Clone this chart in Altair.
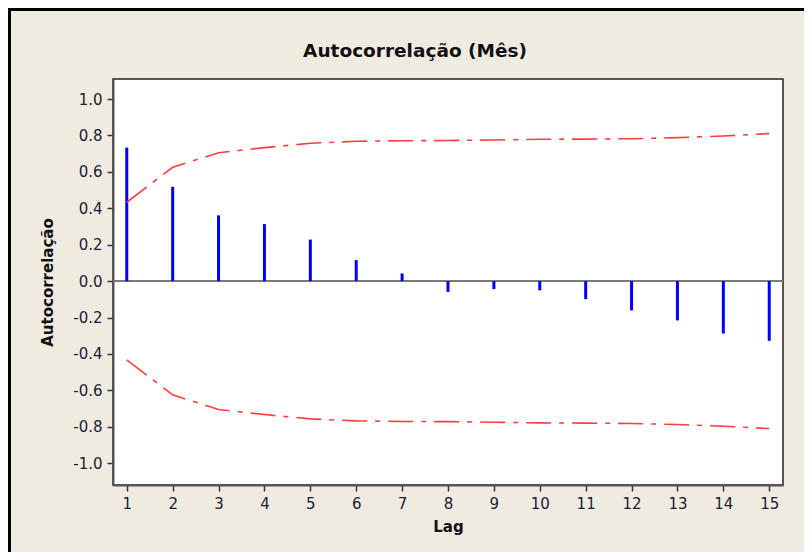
import altair as alt
import pandas as pd

# ---- data ----
lags = list(range(1, 16))
acf = [0.733, 0.518, 0.361, 0.313, 0.228, 0.115, 0.042, -0.059, -0.044,
       -0.051, -0.099, -0.161, -0.216, -0.288, -0.328]
upper_limit = [0.433, 0.625, 0.705, 0.733, 0.757, 0.768, 0.771, 0.772, 0.775,
               0.779, 0.780, 0.782, 0.788, 0.797, 0.810]
lower_limit = [-v for v in upper_limit]
y_ticks = [-1.0, -0.8, -0.6, -0.4, -0.2, 0.0, 0.2, 0.4, 0.6, 0.8, 1.0]
zero_level = [0.0]

bars_df = pd.DataFrame({"Lag": lags, "ACF": acf, "base": [0.0] * len(lags)})
lim_df = pd.DataFrame({
    "Lag": lags + lags,
    "Limit": upper_limit + lower_limit,
    "side": ["upper"] * len(lags) + ["lower"] * len(lags),
})
zero_df = pd.DataFrame({"zero": zero_level})
frame_df = pd.DataFrame({"k": [0]})

FONT = "DejaVu Sans"
TXT = "#1b1b33"

x_scale = alt.Scale(domain=[0.7, 15.3], nice=False, zero=False)
y_scale = alt.Scale(domain=[-1.12, 1.11], nice=False, zero=False)

x_axis = alt.Axis(
    title="Lag", values=lags, format="d", grid=False,
    titleY=34, titleBaseline="top",
)
y_axis = alt.Axis(
    title="Autocorrelação", values=y_ticks, grid=False,
    labelExpr="(datum.value < 0 ? '-' : '') + format(abs(datum.value), '.1f')",
    titleX=-58, titleY=203,
)

zero_line = alt.Chart(zero_df).mark_rule(color="#7a7a7a", strokeWidth=2).encode(
    y=alt.Y("zero:Q", scale=y_scale, axis=y_axis),
)

bars = alt.Chart(bars_df).mark_rule(color="#0000ff", strokeWidth=3).encode(
    x=alt.X("Lag:Q", scale=x_scale, axis=x_axis),
    y=alt.Y("ACF:Q", scale=y_scale),
    y2="base:Q",
)

limits = alt.Chart(lim_df).mark_line(
    color="#ff3b3b", strokeWidth=1.6, strokeDash=[25, 8, 5, 8]
).encode(
    x=alt.X("Lag:Q", scale=x_scale),
    y=alt.Y("Limit:Q", scale=y_scale),
    detail="side:N",
)

frame_top = alt.Chart(frame_df).mark_rule(color="#000000", strokeWidth=3).encode(
    x=alt.value(-106), x2=alt.value(720), y=alt.value(-69.5)
)
frame_left = alt.Chart(frame_df).mark_rule(color="#000000", strokeWidth=3).encode(
    x=alt.value(-103.5), y=alt.value(-71), y2=alt.value(500)
)

chart = alt.layer(zero_line, bars, limits, frame_top, frame_left).properties(
    width=670,
    height=406,
    autosize=alt.AutoSizeParams(type="none"),
    padding={"left": 105, "top": 71, "right": 21, "bottom": 67},
    title=alt.TitleParams(
        "Autocorrelação (Mês)", anchor="middle", frame="group", dx=-33,
        offset=20, dy=74, font=FONT, fontSize=18.5, fontWeight="bold",
        color="#111111",
    ),
).configure(
    background="#efebe1",
).configure_view(
    stroke="#222222", strokeWidth=1.5, fill="#ffffff",
).configure_axis(
    domainColor="#555555", domainWidth=2,
    tickColor="#333333", tickWidth=1.5, tickSize=6,
    labelFont=FONT, labelFontSize=15, labelColor=TXT, labelPadding=5,
    titleFont=FONT, titleFontSize=15, titleFontWeight="bold", titleColor="#111111",
)

chart.save("out.html", embed_options={"renderer": "svg", "actions": False})
